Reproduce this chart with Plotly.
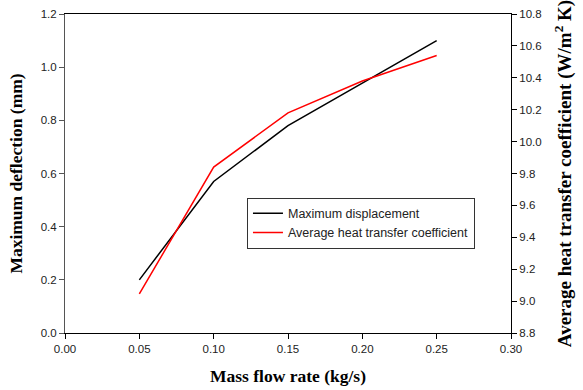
import plotly.graph_objects as go

mass_flow = [0.05, 0.10, 0.15, 0.20, 0.25]
max_deflection = [0.20, 0.57, 0.78, 0.94, 1.10]
avg_htc = [9.045, 9.84, 10.18, 10.38, 10.54]

x_ticks = [0.00, 0.05, 0.10, 0.15, 0.20, 0.25, 0.30]
y_ticks = [0.0, 0.2, 0.4, 0.6, 0.8, 1.0, 1.2]
y2_ticks = [8.8, 9.0, 9.2, 9.4, 9.6, 9.8, 10.0, 10.2, 10.4, 10.6, 10.8]

fig = go.Figure()
fig.add_trace(go.Scatter(x=mass_flow, y=max_deflection, mode="lines",
                         name="Maximum displacement",
                         line=dict(color="black", width=1.5)))
fig.add_trace(go.Scatter(x=mass_flow, y=avg_htc, mode="lines",
                         name="Average heat transfer coefficient",
                         line=dict(color="red", width=1.5), yaxis="y2"))

tickfont = dict(family="Liberation Sans, Arial", size=11.5, color="#222")
titlefont = dict(family="Liberation Serif, Times New Roman", size=17.5, color="black")
titlefont2 = dict(family="Liberation Serif, Times New Roman", size=19, color="black")

fig.update_layout(
    width=583, height=390,
    margin=dict(l=65, r=72, t=14, b=57),
    paper_bgcolor="white", plot_bgcolor="white",
    showlegend=True,
    legend=dict(x=0.408, y=0.424, xanchor="left", yanchor="top",
                bordercolor="#333", borderwidth=1, bgcolor="white",
                font=dict(family="Liberation Sans, Arial", size=12.5, color="#222"),
                tracegroupgap=0, itemwidth=30),
    xaxis=dict(range=[0, 0.30], tickvals=x_ticks,
               ticktext=[f"{v:.2f}" for v in x_ticks],
               ticks="outside", ticklen=5, tickcolor="black",
               showline=True, linecolor="black", linewidth=1,
               mirror=True, showgrid=False, zeroline=False,
               tickfont=tickfont, automargin=False,
               title=dict(text="<b>Mass flow rate (kg/s)</b>", font=titlefont, standoff=15)),
    yaxis=dict(range=[0, 1.2], tickvals=y_ticks,
               ticktext=[f"{v:.1f}" for v in y_ticks],
               ticks="outside", ticklen=5, tickcolor="#555",
               showline=True, linecolor="#555", linewidth=1,
               showgrid=False, zeroline=False, tickfont=tickfont, automargin=False,
               title=dict(text="<b>Maximum deflection (mm)</b>", font=titlefont, standoff=13)),
    yaxis2=dict(range=[8.8, 10.8], tickvals=y2_ticks,
                ticktext=[f"{v:.1f}" for v in y2_ticks],
                overlaying="y", side="right",
                ticks="outside", ticklen=5, tickcolor="black",
                showline=True, linecolor="black", linewidth=1,
                showgrid=False, zeroline=False, tickfont=tickfont, automargin=False,
                title=dict(text="<b>Average heat transfer coefficient (W/m<sup>2</sup> K)</b>",
                           font=titlefont2, standoff=16)),
)

fig.write_html("out.html")
